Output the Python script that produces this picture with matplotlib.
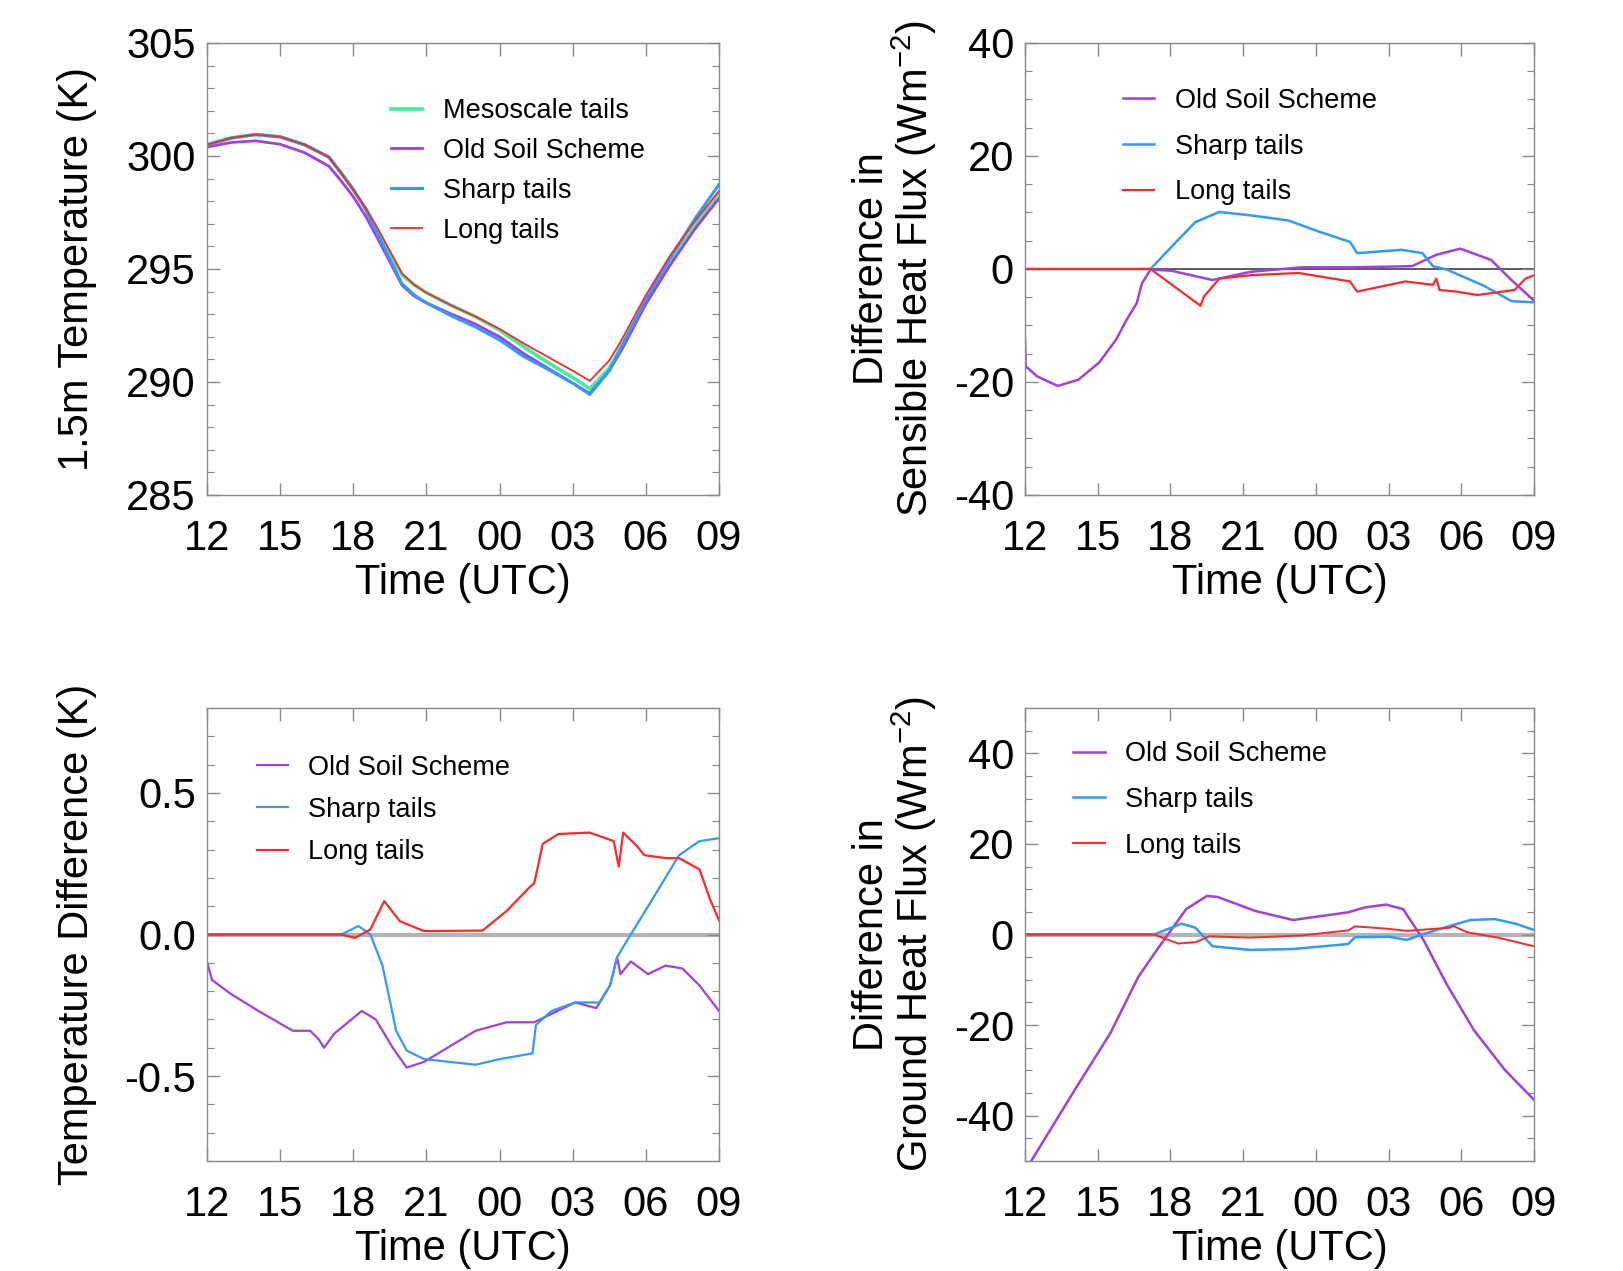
import numpy as np
import matplotlib.pyplot as plt
from matplotlib.ticker import MultipleLocator, FixedLocator

plt.rcParams['font.family'] = ['Liberation Sans', 'DejaVu Sans']
plt.rcParams['mathtext.default'] = 'regular'
plt.rcParams['axes.unicode_minus'] = False

GREEN = '#3cf0a0'
PURPLE = '#a040e0'
BLUE = '#3399ff'
RED = '#ff2828'

# time axis: hours after 12 UTC of day 1 (33 = 09 UTC next day)
time_ticks = [12, 15, 18, 21, 24, 27, 30, 33]
time_labels = ['12', '15', '18', '21', '00', '03', '06', '09']

# --- panel 1: 1.5 m temperature (K)
t1 = [12, 13, 14, 15, 16, 17, 17.5, 18, 18.5, 19, 20, 20.5, 21, 22, 23, 24, 25, 26, 27, 27.7, 28.5, 29,
      30, 31, 32, 33]
temp_meso = [300.5, 300.8, 300.95, 300.85, 300.5, 299.95, 299.25, 298.5, 297.7, 296.7, 294.75, 294.3,
             293.95, 293.4, 292.9, 292.3, 291.55, 290.85, 290.2, 289.7, 290.6, 291.6, 293.55, 295.3,
             296.9, 298.4]
temp_old = [300.4, 300.6, 300.67, 300.52, 300.15, 299.55, 298.9, 298.2, 297.35, 296.35, 294.28, 293.8,
            293.5, 293.02, 292.57, 292.0, 291.25, 290.6, 289.95, 289.5, 290.5, 291.4, 293.45, 295.18,
            296.75, 298.13]
temp_sharp = [300.5, 300.8, 300.95, 300.85, 300.5, 299.95, 299.25, 298.53, 297.65, 296.55, 294.35, 293.85,
              293.5, 292.94, 292.44, 291.86, 291.12, 290.55, 289.95, 289.45, 290.5, 291.55, 293.65,
              295.5, 297.2, 298.74]
temp_long = [300.5, 300.8, 300.95, 300.85, 300.5, 299.95, 299.25, 298.5, 297.72, 296.8, 294.8, 294.3,
             293.95, 293.4, 292.9, 292.35, 291.7, 291.1, 290.5, 290.05, 290.95, 291.85, 293.85, 295.6,
             297.1, 298.45]

# --- panel 2: difference in sensible heat flux (W m-2)
t2_old = [12, 12.03, 12.5, 13.35, 14.2, 15.05, 15.76, 16.19, 16.61, 16.83, 17.18, 18.03, 19.74, 21.3,
          23.43, 25.56, 27.97, 28.96, 29.96, 31.23, 32.08, 33]
sh_old = [-12.2, -17.2, -19.0, -20.7, -19.6, -16.6, -12.5, -9.0, -6.05, -2.5, -0.1, -0.3, -1.95, -0.5,
          0.3, 0.3, 0.5, 2.5, 3.6, 1.6, -2.0, -5.6]
t2_sharp = [12, 17.18, 18.17, 19.03, 20.02, 21.3, 22.86, 24.14, 25.41, 25.7, 27.55, 28.4, 28.83, 29.4,
            30.95, 32.08, 33]
sh_sharp = [0, 0, 4.5, 8.3, 10.1, 9.5, 8.6, 6.6, 4.8, 2.8, 3.4, 2.8, 0.5, -0.1, -3.0, -5.7, -5.9]
t2_long = [12, 17.18, 19.24, 19.38, 20.02, 21.3, 23.29, 25.41, 25.7, 27.69, 28.83, 28.97, 29.1, 29.8,
           30.67, 32.2, 32.65, 33]
sh_long = [0, 0, -6.5, -4.9, -1.7, -1.1, -0.7, -2.2, -4.0, -2.2, -2.8, -1.7, -3.7, -4.0, -4.6, -3.7,
           -1.7, -1.1]

# --- panel 3: temperature difference (K)
t3_old = [12, 12.2, 12.98, 14.11, 15.52, 16.23, 16.58, 16.8, 17.22, 18.35, 18.92, 19.62, 20.19, 20.9,
          23.02, 24.29, 25.42, 27.1, 27.97, 28.53, 28.82, 28.96, 29.38, 30.09, 30.8, 31.5, 32.2, 33]
dt_old = [-0.095, -0.16, -0.21, -0.27, -0.34, -0.34, -0.37, -0.40, -0.35, -0.27, -0.30, -0.40, -0.47,
          -0.45, -0.34, -0.31, -0.31, -0.24, -0.26, -0.18, -0.08, -0.14, -0.095, -0.14, -0.11, -0.12,
          -0.18, -0.27]
t3_sharp = [12, 17.5, 18.21, 18.7, 19.2, 19.76, 20.19, 20.9, 23.02, 24.01, 25.35, 25.49, 26.13, 27.1,
            28.1, 28.53, 28.82, 29.38, 29.81, 30.52, 31.36, 32.2, 33]
dt_sharp = [0, 0, 0.03, 0.0, -0.11, -0.34, -0.41, -0.44, -0.46, -0.44, -0.42, -0.32, -0.27, -0.24,
            -0.24, -0.18, -0.08, 0.0, 0.06, 0.16, 0.28, 0.33, 0.34]
t3_long = [12, 17.5, 18.07, 18.7, 19.27, 19.91, 20.9, 23.3, 24.29, 25.28, 25.42, 25.77, 26.41, 27.69,
           28.68, 28.89, 29.07, 29.66, 29.94, 30.8, 31.36, 32.2, 32.63, 33]
dt_long = [0, 0, -0.012, 0.018, 0.118, 0.047, 0.012, 0.014, 0.083, 0.171, 0.18, 0.32, 0.355, 0.36,
           0.33, 0.24, 0.36, 0.31, 0.28, 0.27, 0.27, 0.23, 0.125, 0.05]

# --- panel 4: difference in ground heat flux (W m-2)
t4_old = [12, 12.21, 14.1, 15.52, 16.67, 17.52, 18.65, 19.5, 19.94, 21.5, 23.06, 25.33, 26.04, 26.9,
          27.6, 28.45, 29.39, 30.52, 31.8, 33]
gh_old = [-52.5, -50.4, -33.9, -21.8, -9.4, -2.8, 5.6, 8.5, 8.3, 5.2, 3.2, 4.9, 6.0, 6.6, 5.6, -1.3,
          -10.9, -21.1, -29.9, -36.5]
t4_sharp = [12, 17.32, 18.46, 19.03, 19.74, 21.3, 23.06, 25.33, 25.62, 27.04, 27.75, 28.45, 29.53,
            30.38, 31.38, 32.23, 33]
gh_sharp = [0, 0, 2.4, 1.5, -2.6, -3.4, -3.2, -2.1, -0.6, -0.5, -1.2, 0.1, 1.9, 3.2, 3.4, 2.4, 1.0]
t4_long = [12, 17.32, 18.32, 19.03, 19.6, 21.3, 23.43, 25.33, 25.62, 26.9, 27.75, 29.53, 29.67, 30.24,
           31.52, 33]
gh_long = [0, 0, -2.0, -1.7, -0.4, -0.7, -0.2, 0.9, 1.8, 1.3, 0.8, 1.5, 1.9, 0.5, -0.7, -2.6]

W, H = 1623, 1271
fig = plt.figure(figsize=(W / 100, H / 100), dpi=100)


def make_axes(px_left, px_top, px_w, px_h):
    return fig.add_axes([px_left / W, 1 - (px_top + px_h) / H, px_w / W, px_h / H])


def style(ax, ylim, major, minor, fmt, ylabel, label_x):
    ax.set_xlim(12, 33)
    ax.set_ylim(*ylim)
    ax.xaxis.set_major_locator(FixedLocator(time_ticks))
    ax.set_xticklabels(time_labels)
    ax.yaxis.set_major_locator(MultipleLocator(major))
    ax.yaxis.set_minor_locator(MultipleLocator(minor))
    ax.yaxis.set_major_formatter(fmt)
    for s in ax.spines.values():
        s.set_color('#8a8a8a')
        s.set_linewidth(1.0)
    ax.tick_params(which='both', direction='in', top=True, right=True, color='#8a8a8a')
    ax.tick_params(which='major', length=9, width=1.0)
    ax.tick_params(which='minor', length=5, width=0.8)
    ax.tick_params(axis='x', labelsize=30, pad=17)
    ax.tick_params(axis='y', labelsize=30, pad=8)
    ax.set_xlabel('Time (UTC)', fontsize=30)
    ax.xaxis.set_label_coords(0.5, -0.15)
    ax.set_ylabel(ylabel, fontsize=30, linespacing=0.95)
    ax.yaxis.set_label_coords(label_x, 0.5)


def legend(ax, x, y, spacing):
    ax.legend(loc='upper left', bbox_to_anchor=(x, y), frameon=False, fontsize=19.5,
              handlelength=1.15, handletextpad=0.75, labelspacing=spacing,
              borderpad=0, borderaxespad=0)


# panel 1
ax1 = make_axes(207, 43, 512, 452)
ax1.plot(t1, temp_meso, color=GREEN, lw=2.6, label='Mesoscale tails')
ax1.plot(t1, temp_old, color=PURPLE, lw=2.0, label='Old Soil Scheme')
ax1.plot(t1, temp_sharp, color=BLUE, lw=2.2, label='Sharp tails')
ax1.plot(t1, temp_long, color=RED, lw=1.3, label='Long tails')
style(ax1, (285, 305), 5, 1, '{x:.0f}', '1.5m Temperature (K)', -0.215)
legend(ax1, 0.36, 0.878, 0.51)

# panel 2
ax2 = make_axes(1025, 43, 509, 452)
ax2.axhline(0, color='#404040', lw=1.2, zorder=1)
ax2.plot(t2_old, sh_old, color=PURPLE, lw=1.8, label='Old Soil Scheme')
ax2.plot(t2_sharp, sh_sharp, color=BLUE, lw=1.8, label='Sharp tails')
ax2.plot(t2_long, sh_long, color=RED, lw=1.6, label='Long tails')
style(ax2, (-40, 40), 20, 5, '{x:.0f}',
      'Difference in\nSensible Heat Flux (Wm$^{-2}$)', -0.168)
legend(ax2, 0.193, 0.901, 0.73)

# panel 3
ax3 = make_axes(207, 708, 512, 453)
ax3.axhline(0, color='#b4b4b4', lw=3.0, zorder=1)
ax3.plot(t3_old, dt_old, color=PURPLE, lw=1.6, label='Old Soil Scheme')
ax3.plot(t3_sharp, dt_sharp, color=BLUE, lw=1.6, label='Sharp tails')
ax3.plot(t3_long, dt_long, color=RED, lw=1.6, label='Long tails')
style(ax3, (-0.8, 0.8), 0.5, 0.1, '{x:.1f}', 'Temperature Difference (K)', -0.215)
legend(ax3, 0.097, 0.897, 0.6)

# panel 4
ax4 = make_axes(1025, 708, 509, 453)
ax4.axhline(0, color='#b4b4b4', lw=3.0, zorder=1)
ax4.plot(t4_old, gh_old, color=PURPLE, lw=1.8, label='Old Soil Scheme')
ax4.plot(t4_sharp, gh_sharp, color=BLUE, lw=1.8, label='Sharp tails')
ax4.plot(t4_long, gh_long, color=RED, lw=1.4, label='Long tails')
style(ax4, (-50, 50), 20, 5, '{x:.0f}',
      'Difference in\nGround Heat Flux (Wm$^{-2}$)', -0.168)
legend(ax4, 0.095, 0.927, 0.73)

fig.savefig('out.png', dpi=100)
